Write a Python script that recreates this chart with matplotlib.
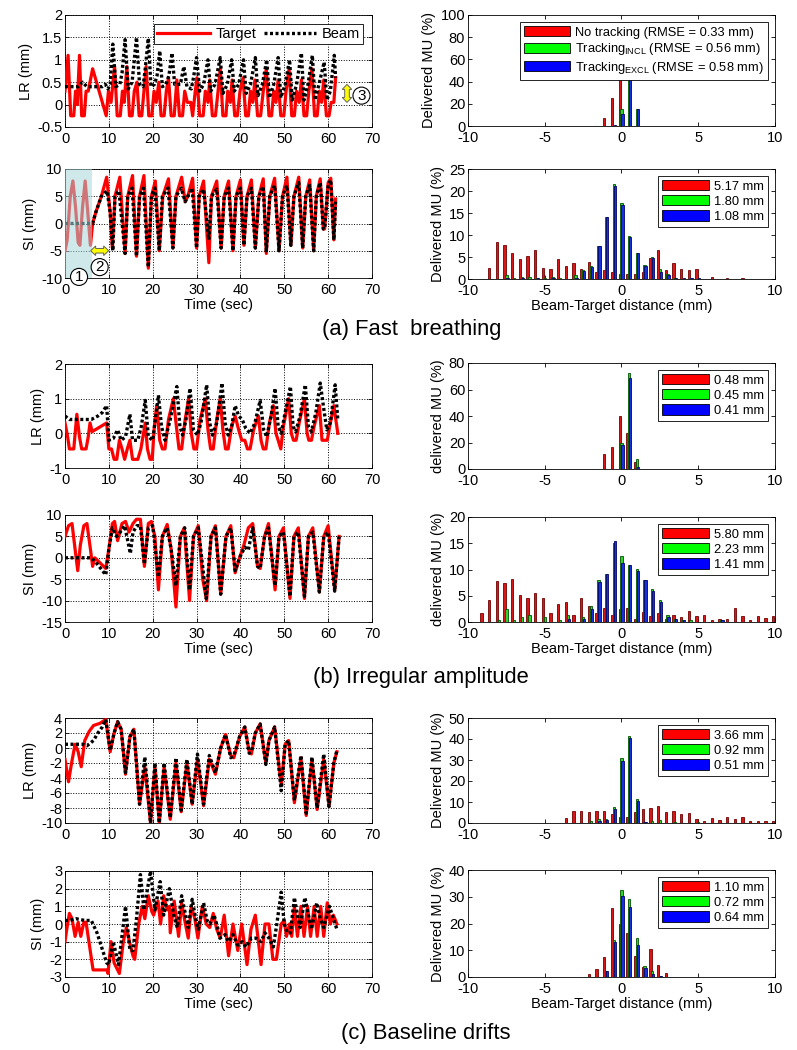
import numpy as np
import matplotlib
matplotlib.use("Agg")
import matplotlib.pyplot as plt
from matplotlib.patches import Patch, Rectangle, Polygon
from matplotlib.transforms import ScaledTranslation

plt.rcParams['font.family'] = ['Liberation Sans', 'DejaVu Sans']
plt.rcParams['mathtext.fontset'] = 'custom'
plt.rcParams['mathtext.rm'] = 'Liberation Sans'
plt.rcParams['axes.unicode_minus'] = False
plt.rcParams['font.size'] = 10

# ---------------- time series (t, mm) ----------------
a_lr_target = [(0, 0.3), (0.7, 1.1), (1.3, -0.25), (2.0, -0.25), (2.4, 0.3), (2.8, 0.0), (3.3, 1.1), (3.8, -0.25),
               (4.4, -0.25), (4.8, 0.3), (5.3, 0.3), (6.3, 0.8), (9.4, -0.25), (9.9, 0.3), (10.5, 0.05), (11.3, 0.85),
               (11.9, -0.25), (12.6, -0.25), (13.1, 0.3), (13.5, 0.05), (14.1, 0.85), (14.7, -0.25), (15.3, -0.25),
               (15.8, 0.3), (16.4, 0.5), (16.9, -0.25), (17.5, -0.25), (18.0, 0.3), (18.5, 0.85), (19.1, -0.25),
               (19.8, -0.25), (20.3, 0.3), (20.8, 0.05), (21.4, 0.5), (21.9, -0.25), (22.6, -0.25), (23.1, 0.3),
               (23.6, 0.6), (24.2, -0.25), (24.9, -0.25), (25.5, 0.55), (26.1, -0.25), (26.8, -0.25), (27.3, 0.3),
               (27.9, 0.05), (28.7, 0.05), (29.1, -0.25), (29.7, 0.3), (30.1, 0.6), (30.7, -0.25), (31.5, -0.25),
               (32.0, 0.3), (32.6, 0.05), (33.0, 0.55), (33.6, -0.25), (34.3, -0.25), (34.9, 0.3), (35.4, 0.8),
               (36.0, -0.25), (36.7, -0.25), (37.1, 0.3), (37.7, 0.05), (38.1, 0.55), (38.7, -0.25), (39.3, -0.25),
               (39.9, 0.3), (40.6, 0.6), (41.2, -0.25), (41.8, -0.25), (42.3, 0.3), (42.8, 0.05), (43.3, 0.55),
               (43.9, -0.25), (44.6, -0.25), (45.2, 0.3), (45.9, 0.8), (46.5, -0.25), (47.1, -0.25), (47.6, 0.3),
               (48.1, 0.05), (48.6, 0.55), (49.2, -0.25), (49.9, -0.25), (50.4, 0.3), (51.1, 0.8), (51.7, -0.25),
               (52.3, -0.25), (52.8, 0.3), (53.4, 0.05), (53.9, 0.55), (54.5, -0.25), (55.1, -0.25), (55.6, 0.3),
               (56.3, 0.8), (56.9, -0.25), (57.5, -0.25), (58.0, 0.3), (58.5, 0.05), (59.0, 0.55), (59.6, -0.25),
               (60.2, -0.25), (60.7, 0.05), (61.3, 0.05), (61.7, 0.6)]
a_lr_beam = [(0, 0.4), (3.0, 0.4), (4.0, 0.5), (5.0, 0.4), (8.5, 0.4), (9.2, 0.45), (9.8, 0.35), (10.3, 0.45),
             (10.9, 1.35), (11.6, 0.4), (12.5, 0.45), (13.0, 0.7), (13.7, 1.45), (14.4, 0.35), (15.3, 0.5),
             (16.3, 1.5), (17.0, 0.45), (17.8, 0.4), (18.3, 0.8), (19.0, 1.48), (19.6, 0.4), (20.4, 0.45),
             (21.0, 0.65), (21.6, 1.2), (22.2, 0.4), (23.0, 0.45), (23.7, 0.65), (24.4, 1.15), (25.0, 0.45),
             (26.3, 0.45), (27.1, 0.85), (27.8, 0.4), (28.8, 0.35), (29.3, 0.6), (30.0, 1.05), (30.7, 0.3),
             (31.6, 0.45), (32.6, 1.0), (33.2, 0.3), (34.2, 0.45), (35.4, 1.05), (36.0, 0.25), (37.0, 0.45),
             (38.0, 1.0), (38.6, 0.3), (39.6, 0.45), (40.7, 1.0), (41.3, 0.25), (42.3, 0.45), (43.4, 1.05),
             (44.0, 0.2), (45.0, 0.45), (46.0, 1.0), (46.6, 0.15), (47.6, 0.45), (48.6, 1.05), (49.2, 0.15),
             (50.2, 0.45), (51.2, 1.0), (51.8, 0.1), (52.8, 0.45), (53.9, 1.15), (54.5, 0.1), (55.4, 0.45),
             (56.4, 1.1), (57.0, 0.1), (57.9, 0.45), (59.1, 0.95), (59.7, 0.1), (60.5, 0.3), (61.4, 1.1), (61.7, 0.6)]

a_si_target = [(0, -5), (0.5, -3), (1.2, 5), (1.8, 7.8), (2.4, 3), (3.0, -3.5), (3.4, -4), (4.0, 3), (4.6, 7.8),
               (5.2, 2), (5.8, -4), (6.3, 0), (7.0, 2), (8.3, 5), (9.5, 8.5), (10.3, 2), (10.8, -4.5), (11.4, 5),
               (12.5, 8.5), (13.7, -5.5), (14.3, 5), (15.4, 8.8), (16.3, -6), (17.0, 5), (18.0, 8.8), (19.0, -8.2),
               (19.7, 5), (20.6, 7.8), (21.5, -5), (22.3, 5), (23.6, 8.2), (24.6, -4.5), (25.3, 5), (26.6, 8.5),
               (27.4, 4), (28.0, 5), (29.1, 8.3), (30.0, -4.5), (30.6, 5), (31.6, 7.8), (32.8, -7.2), (33.4, 5),
               (34.6, 7.8), (35.6, -4.5), (36.3, 5), (37.3, 7.8), (38.3, -5), (39.0, 5), (40.0, 8), (40.8, -4),
               (41.5, 5), (42.5, 8), (43.4, -4.5), (44.2, 5), (45.2, 8.2), (45.9, -5.5), (46.7, 5), (47.8, 8.3),
               (48.8, -5), (49.6, 5), (50.6, 8.5), (51.5, -4), (52.2, 5), (53.3, 8.5), (54.2, -4.5), (54.9, 5),
               (55.8, 8), (56.7, -5), (57.3, 5), (58.2, 8.2), (58.9, -1), (59.2, -1), (60.0, 7.5), (60.6, 8.3),
               (61.3, -3), (61.7, 4.5)]
a_si_beam = [(0, 0), (6.3, 0), (7.0, 2), (8.3, 5), (9.6, 6), (10.3, 2), (10.9, -5), (11.4, 5), (12.3, 6),
             (13.7, -5.5), (14.3, 5), (15.3, 6.5), (16.3, -6), (17.0, 5), (17.9, 6.5), (19.0, -8), (19.7, 5),
             (20.5, 6.5), (21.5, -5), (22.2, 5), (23.5, 6.5), (24.6, -4.5), (25.3, 5), (26.5, 6.5), (27.4, 4),
             (28.0, 5), (29.0, 6.5), (30.0, -4.5), (30.6, 5), (31.6, 6.3), (32.8, -3), (33.4, 5), (34.6, 6.3),
             (35.6, -4.5), (36.3, 5), (37.3, 6.5), (38.3, -5), (39.0, 5), (40.0, 6.5), (40.8, -4), (41.5, 5),
             (42.5, 6.5), (43.4, -4.5), (44.2, 5), (45.2, 6.8), (45.9, -5), (46.7, 5), (47.8, 7), (48.8, -5),
             (49.6, 5), (50.6, 7), (51.5, -4), (52.2, 5), (53.3, 7.5), (54.2, -4.5), (54.9, 5), (55.8, 7),
             (56.7, -5), (57.3, 5), (58.2, 7.5), (58.9, -1), (59.2, -1), (60.0, 7), (60.6, 8), (61.3, -3), (61.7, 4)]

b_lr_target = [(0, 0.3), (0.6, -0.1), (1.0, -0.45), (2.0, -0.45), (2.7, 0.55), (3.3, -0.1), (3.8, -0.45),
               (4.8, -0.45), (5.3, -0.1), (5.7, 0.3), (6.2, 0.05), (9.5, 0.3), (10.0, -0.45), (10.6, -0.45),
               (11.2, -0.75), (11.8, -0.75), (12.4, -0.2), (13.0, -0.45), (13.6, -0.75), (14.2, -0.45), (14.8, -0.2),
               (15.4, -0.75), (16.6, -0.75), (17.3, -0.45), (18.3, 0.3), (18.8, -0.45), (19.4, -0.75), (19.9, -0.75),
               (20.3, 0.1), (20.9, 0.8), (21.6, -0.2), (22.2, -0.45), (22.8, -0.45), (23.6, 0.4), (24.7, 1.0),
               (25.4, 0.2), (26.0, -0.45), (26.6, -0.45), (27.4, 0.4), (28.2, 1.0), (28.8, 0.0), (29.4, -0.45),
               (30.0, -0.45), (30.8, 0.4), (32.0, 1.0), (32.6, 0.1), (33.2, -0.45), (33.8, -0.45), (34.6, 0.4),
               (35.4, 1.0), (36.0, 0.1), (36.6, -0.45), (37.2, -0.45), (38.0, 0.2), (38.8, 0.5), (39.6, 0.1),
               (40.3, -0.2), (41.0, -0.2), (41.6, -0.45), (42.2, -0.45), (43.0, 0.1), (44.1, 0.5), (44.7, -0.2),
               (45.2, -0.45), (45.8, -0.45), (46.6, 0.3), (47.5, 0.8), (48.1, 0.0), (48.6, -0.2), (49.2, -0.45),
               (49.8, 0.2), (51.0, 1.0), (51.6, 0.0), (52.1, -0.2), (52.7, -0.2), (53.4, 0.3), (54.6, 1.0),
               (55.2, 0.0), (55.6, -0.2), (56.2, -0.2), (56.8, 0.2), (58.0, 0.8), (58.6, -0.2), (59.2, -0.2),
               (59.8, -0.2), (60.5, 0.3), (61.3, 0.8), (62.2, 0.0)]
b_lr_beam = [(0, 0.5), (1.0, 0.4), (6.0, 0.4), (7.5, 0.5), (8.5, 0.6), (9.5, 0.8), (10.0, -0.2), (11.0, -0.15),
             (12.0, 0.1), (12.8, -0.2), (13.8, -0.1), (14.8, 0.55), (15.4, -0.2), (16.6, -0.2), (17.4, 0.2),
             (18.3, 0.95), (19.0, -0.1), (20.0, -0.2), (21.3, 1.1), (22.0, 0.2), (22.8, -0.2), (24.0, 0.4),
             (25.5, 1.35), (26.2, 0.2), (26.8, -0.05), (27.6, 0.4), (28.5, 1.3), (29.3, 0.1), (30.2, -0.05),
             (31.0, 0.3), (32.3, 1.4), (33.0, 0.3), (33.6, -0.05), (34.6, 0.3), (35.8, 1.45), (36.5, 0.3),
             (37.2, -0.05), (38.0, 0.2), (38.8, 0.8), (39.6, 0.5), (40.4, 0.4), (41.2, 0.15), (42.2, 0.0),
             (43.3, 0.3), (44.5, 0.95), (45.3, 0.1), (46.0, -0.1), (47.0, 0.5), (47.9, 1.3), (48.6, 0.2),
             (49.3, 0.0), (50.2, 0.6), (51.4, 1.35), (52.0, 0.2), (52.6, 0.05), (53.6, 0.5), (54.8, 1.4),
             (55.5, 0.2), (56.2, 0.05), (57.2, 0.6), (58.2, 1.45), (58.9, 0.8), (59.7, 0.1), (60.5, 0.3),
             (61.6, 1.4), (62.2, 0.4)]

b_si_target = [(0, 5), (0.8, 7.5), (1.6, 8), (2.3, 2), (2.9, -3), (3.5, 3), (4.3, 7.5), (5.0, 8), (5.8, 2),
               (6.3, -2), (6.8, 0), (9.3, -2.5), (10.0, 2), (10.8, 8), (11.3, 8.5), (12.0, 4), (13.0, 8), (13.8, 8.5),
               (14.6, 6), (15.5, 8), (16.3, 9), (17.2, 9), (18.1, -2), (19.0, 8), (19.7, 8.5), (20.5, 5),
               (21.3, -7.5), (22.2, 5), (23.3, 7.8), (24.2, 2), (25.3, -11.5), (26.3, 5), (27.2, 7), (28.4, -10),
               (29.3, 5), (30.4, 7.5), (31.4, -5), (32.3, -10), (33.3, 5), (34.3, 7.5), (35.5, -8.5), (36.7, 5),
               (37.8, 7.5), (38.8, -3.5), (39.8, 0), (40.8, 3), (41.8, 7), (42.8, 8), (43.9, -2), (44.5, -2.5),
               (45.5, 5), (46.4, 8), (47.9, -7.5), (48.8, 5), (49.8, 7), (51.3, -9.5), (52.2, 5), (53.2, 7),
               (54.6, -9.5), (55.5, 5), (56.5, 7), (58.0, -8), (59.0, 5), (60.0, 7.5), (61.5, -7.5), (62.5, 5)]
b_si_beam = [(0, 0), (6, 0), (7, -1), (9.3, -4), (10.0, 2), (10.8, 7), (11.8, 5), (12.6, 6), (13.6, 7.5),
             (14.9, 1), (15.5, 6), (16.4, 7.5), (17.2, 7.5), (18.1, -1.5), (19.0, 7), (20.0, 7.5), (21.3, -4.5),
             (22.2, 5), (23.3, 7), (24.2, 2), (25.3, -6.5), (26.3, 5), (27.3, 7), (28.4, -7.5), (29.3, 5),
             (30.4, 7), (32.2, -9.5), (33.3, 5), (34.3, 7), (35.5, -8.5), (36.7, 5), (37.8, 7), (38.8, -3),
             (39.8, 0), (41.0, 2.5), (41.8, 1.8), (42.8, 7), (43.9, -2), (44.5, -2.5), (45.5, 5), (46.4, 7),
             (47.9, -6.5), (48.8, 5), (49.8, 6), (51.3, -9), (52.2, 5), (53.2, 6), (54.6, -9), (55.5, 5),
             (56.5, 6), (58.0, -8), (59.0, 5), (60.0, 6), (61.5, -7.8), (62.5, 5)]

c_lr_target = [(0, -1.5), (0.8, -4.5), (1.5, -2), (2.3, 0.5), (3.0, -0.5), (3.7, -2.5), (4.5, 1.0), (5.5, 2.2),
               (6.5, 3.0), (8.0, 3.3), (9.3, 3.8), (10.3, -0.5), (11.2, 2), (12.0, 3.5), (12.8, 2.5), (13.8, -3.5),
               (14.8, 1.5), (15.7, 2.5), (17.0, -7.5), (18.2, -2.5), (19.5, -10), (20.5, -2.5), (21.5, -10),
               (22.6, -2.5), (24.0, -9.5), (25.3, -2.0), (26.5, -8.5), (27.8, -2.0), (29.0, -7.5), (30.2, -1.5),
               (31.6, -7.7), (32.9, -1.5), (34.3, -3.5), (35.5, 0), (36.6, 1.8), (37.8, -1.0), (38.5, -1.3),
               (39.8, 1.5), (41.0, 2.8), (42.0, -0.5), (42.5, -0.8), (43.4, 2), (44.5, 3.2), (45.8, -2.0),
               (46.5, 1), (47.8, 2.8), (49.3, -5), (50.2, 0.5), (51.0, 1), (52.3, -7.3), (53.8, -1.3), (55.0, -9),
               (56.3, -1.5), (57.5, -8.2), (59.0, -1.5), (60.2, -7.8), (61.3, -2), (62.0, -0.5)]
c_lr_beam = [(0, 0.5), (4, 0.5), (5, 0.3), (6.5, 1.0), (7.5, 2.0), (8.5, 2.8), (9.3, 3.8), (10.3, -0.3), (11.2, 2),
             (12.0, 3.5), (12.8, 2.5), (13.8, -3.3), (14.8, 1.5), (15.7, 2.5), (17.0, -7.5), (18.2, -1.2),
             (19.5, -10), (20.5, -2), (21.5, -10), (22.6, -2), (24.0, -9.3), (25.3, -1.3), (26.5, -8.3),
             (27.8, -1.5), (29.0, -7.5), (30.2, -0.8), (31.6, -7.5), (32.9, -1.0), (34.3, -3.3), (35.5, 0),
             (36.6, 1.8), (37.8, -1.3), (38.5, -1.0), (39.8, 1.5), (41.0, 2.8), (42.0, -0.7), (42.5, -0.5),
             (43.4, 2), (44.5, 3.2), (45.8, -2.2), (46.5, 1), (47.8, 2.8), (49.3, -5.7), (50.2, 0.5), (51.0, 1),
             (52.3, -7.0), (53.8, -1.0), (55.0, -8.7), (56.3, -1.2), (57.5, -8.0), (59.0, -0.8), (60.2, -7.8),
             (61.3, -2), (62.0, -0.3)]

c_si_target = [(0, -1.0), (0.4, -0.3), (1.0, 0.6), (1.6, 0.3), (2.3, -0.7), (3.0, 0.1), (3.6, -0.7), (4.3, 0.1),
               (4.8, 0.1), (6.4, -2.6), (9.6, -2.6), (9.8, -2.8), (10.5, -1.0), (11.2, -2.2), (11.8, -2.5),
               (12.4, -2.8), (13.3, -1.0), (14.0, -0.2), (14.6, -0.9), (15.5, -1.8), (15.9, -2.0), (16.8, 0.0),
               (17.6, 1.0), (18.2, 0.3), (19.0, 1.6), (19.8, 0.7), (20.2, 0.5), (21.2, 1.3), (21.8, 0.0),
               (22.5, 1.6), (23.3, 0.8), (23.8, 1.0), (24.0, -0.5), (24.9, 1.3), (25.3, 0.5), (25.9, -0.7),
               (26.6, 1.2), (27.3, 0.2), (28.1, -0.8), (28.8, 1.0), (29.6, 0.3), (30.3, -0.8), (31.3, 1.0),
               (32.2, 0.0), (33.0, -0.2), (33.8, 0.6), (34.6, -0.3), (35.4, -0.8), (36.3, 0.5), (37.3, -1.8),
               (38.3, 0.0), (39.4, -1.5), (40.3, 0.0), (41.5, -2.3), (42.4, -0.3), (43.4, 0.5), (44.7, -2.3),
               (45.6, 0.0), (46.5, 0.0), (47.4, -2.0), (48.2, -2.0), (49.3, 0.0), (50.0, 0.2), (50.5, -0.7),
               (51.2, 0.0), (51.7, -0.7), (52.3, 1.0), (53.0, -0.7), (53.8, 1.0), (54.5, -0.7), (55.3, 1.0),
               (56.0, -0.7), (56.8, 1.0), (57.5, -0.7), (58.3, 1.0), (59.0, -0.7), (59.8, 1.2), (60.5, 0.0),
               (61.2, 0.5), (62.0, 0.0)]
c_si_beam = [(0, 0.2), (1.0, 0.2), (2.5, 0.3), (4.5, 0.2), (6.0, 0.2), (7.3, -0.5), (9.5, -2.2), (10.0, -2.3),
             (11.0, -1.0), (12.2, -2.3), (13.8, 1.0), (14.8, -1.5), (15.5, -1.5), (16.3, 0.3), (17.2, 2.8),
             (18.0, 0.8), (19.5, 3.0), (20.5, 0.8), (21.7, 2.4), (22.5, 0.5), (23.8, 2.0), (24.8, 0.5),
             (25.6, -0.2), (26.6, 1.6), (27.5, 0.5), (28.1, -0.2), (29.0, 1.4), (29.8, 0.3), (30.4, -0.3),
             (31.6, 1.2), (32.4, 0.2), (33.0, 0.0), (34.0, 0.5), (34.8, -0.2), (35.3, -0.8), (36.5, -0.6),
             (37.3, -1.0), (38.3, -0.6), (39.4, -1.2), (40.4, -1.0), (41.3, -1.3), (42.5, -0.8), (43.5, -0.8),
             (44.7, -1.0), (45.6, -0.5), (46.5, -0.8), (47.5, -1.3), (48.3, 0.0), (49.3, 1.8), (50.0, 0.0),
             (50.7, -0.5), (51.4, -0.5), (52.3, 1.5), (53.0, 0.5), (53.6, -0.2), (54.7, 1.5), (55.5, 0.5),
             (56.2, -0.3), (57.4, 1.2), (58.2, 0.3), (59.0, -0.2), (60.3, 1.0), (61.2, 0.3), (62.0, -0.3)]

# ---------------- histograms: (bin centre mm, delivered MU %) ----------------
a_lr_red = [(-1, 7), (-0.5, 25), (0, 68)]
a_lr_green = [(0, 15), (0.5, 70), (1, 15)]
a_lr_blue = [(-0.5, 1), (0, 11), (0.5, 73), (1, 15)]

a_si_red = [(-8.5, 2.6), (-8, 8.3), (-7.5, 7.7), (-7, 5.8), (-6.5, 4.5), (-6, 5.2), (-5.5, 6.7), (-5, 2.6),
            (-4.5, 2.3), (-4, 4.5), (-3.5, 3.0), (-3, 3.6), (-2.5, 2.3), (-2, 3.9), (-1.5, 1.7), (-1, 2.0),
            (-0.5, 1.6), (0, 1.1), (0.5, 1.1), (1, 1.1), (1.5, 1.7), (2, 4.8), (2.5, 6.6), (3, 2.0), (3.5, 3.7),
            (4, 2.3), (4.5, 2.0), (5, 2.3), (6, 0.5), (7, 0.2), (8, 0.2)]
a_si_green = [(-7.5, 1.0), (-7, 0.3), (-6.5, 0.4), (-6, 0.5), (-5.5, 0.3), (-5, 0.3), (-4.5, 0.5), (-4, 0.2),
              (-3, 0.9), (-2.5, 2.0), (-2, 3.0), (-1.5, 7.5), (-1, 14.0), (-0.5, 21.5), (0, 17.3), (0.5, 9.8),
              (1, 5.9), (1.5, 3.2), (2, 5.1), (2.5, 2.2), (3, 1.2), (3.5, 0.2)]
a_si_blue = [(-7.5, 0.2), (-6.5, 0.2), (-5.5, 0.2), (-4.5, 0.2), (-3, 0.2), (-2.5, 1.8), (-2, 2.8), (-1.5, 7.4),
             (-1, 14.0), (-0.5, 21.2), (0, 16.9), (0.5, 9.5), (1, 5.8), (1.5, 2.9), (2, 4.7), (2.5, 1.7),
             (3, 0.9), (3.5, 0.3), (4, 0.2), (4.5, 0.2), (5, 0.2)]

b_lr_red = [(-1, 11), (-0.5, 16.7), (0, 40), (0.5, 27), (1, 5.5)]
b_lr_green = [(0, 20), (0.5, 72.5), (1, 7.3)]
b_lr_blue = [(0, 18), (0.5, 68.5), (1, 1.5)]

b_si_red = [(-9, 1.7), (-8.5, 4.2), (-8, 7.8), (-7.5, 7.4), (-7, 8.1), (-6.5, 5.2), (-6, 4.5), (-5.5, 5.6),
            (-5, 4.5), (-4.5, 1.7), (-4, 3.5), (-3.5, 3.8), (-3, 1.4), (-2.5, 4.5), (-2, 3.1), (-1.5, 1.7),
            (-1, 2.6), (-0.5, 1.4), (0, 2.5), (0.5, 2.7), (1, 0.6), (1.5, 2.0), (2, 1.1), (2.5, 1.7), (3, 0.6),
            (3.5, 1.4), (4, 1.0), (4.5, 2.1), (5, 1.1), (5.5, 1.4), (6, 0.4), (6.5, 0.6), (7, 0.6), (7.5, 2.7),
            (8, 1.1), (8.5, 0.4), (9, 1.1), (9.5, 0.7), (10, 1.1)]
b_si_green = [(-8, 0.3), (-7.5, 2.4), (-7, 0.3), (-6.5, 1.0), (-6, 1.3), (-5, 1.0), (-4, 0.3), (-3.5, 1.4),
              (-2.5, 1.0), (-2, 3.1), (-1.5, 8.0), (-1, 9.2), (-0.5, 15.1), (0, 12.5), (0.5, 10.8), (1, 10.1),
              (1.5, 8.0), (2, 6.3), (2.5, 4.2), (3, 1.4), (3.5, 0.6), (4, 0.4), (4.5, 0.3), (6.5, 0.4)]
b_si_blue = [(-3.5, 0.5), (-2.5, 0.6), (-2, 2.5), (-1.5, 7.6), (-1, 9.2), (-0.5, 15.4), (0, 11.2), (0.5, 10.8),
             (1, 9.8), (1.5, 8.0), (2, 6.0), (2.5, 3.8), (3, 1.0), (3.5, 0.6), (4, 0.3), (6.5, 0.3)]

c_lr_red = [(-3.5, 2.4), (-3, 5.7), (-2.5, 5.7), (-2, 5.2), (-1.5, 5.7), (-1, 5.7), (-0.5, 4.4), (0, 2.9),
            (0.5, 2.9), (1, 5.2), (1.5, 6.8), (2, 7.3), (2.5, 8.1), (3, 5.4), (3.5, 5.7), (4, 4.4), (4.5, 4.6),
            (5, 1.9), (5.5, 1.1), (6, 2.4), (6.5, 1.3), (7, 2.9), (7.5, 2.1), (8, 2.9), (8.5, 1.0), (9, 1.0),
            (9.5, 1.0), (10, 1.1)]
c_lr_green = [(-2, 0.8), (-1.5, 1.8), (-1, 1.8), (-0.5, 7.8), (0, 31.0), (0.5, 41.5), (1, 11.3), (1.5, 0.5),
              (2, 1.0), (2.5, 1.4), (3.5, 0.6), (5, 0.6)]
c_lr_blue = [(-1.5, 1.0), (-1, 1.3), (-0.5, 6.9), (0, 29.5), (0.5, 40.5), (1, 10.3), (1.5, 0.3)]

c_si_red = [(-2, 1.3), (-1.5, 2.9), (-1, 7.3), (-0.5, 25.8), (0, 19.8), (0.5, 16.3), (1, 8.0), (1.5, 3.9),
            (2, 10.5), (2.5, 4.3), (3, 1.5)]
c_si_green = [(-1, 2.3), (-0.5, 14.0), (0, 32.6), (0.5, 29.0), (1, 14.5), (1.5, 4.2), (2, 2.3), (2.5, 0.5)]
c_si_blue = [(-1, 2.3), (-0.5, 13.0), (0, 30.2), (0.5, 26.3), (1, 12.0), (1.5, 3.2), (2, 1.3), (2.5, 0.4)]

rmse_labels = {
    "a_lr": ["No tracking (RMSE = 0.33 mm)", r"Tracking$_{\mathrm{INCL}}$ (RMSE = 0.56 mm)",
             r"Tracking$_{\mathrm{EXCL}}$ (RMSE = 0.58 mm)"],
    "a_si": ["5.17 mm", "1.80 mm", "1.08 mm"],
    "b_lr": ["0.48 mm", "0.45 mm", "0.41 mm"],
    "b_si": ["5.80 mm", "2.23 mm", "1.41 mm"],
    "c_lr": ["3.66 mm", "0.92 mm", "0.51 mm"],
    "c_si": ["1.10 mm", "0.72 mm", "0.64 mm"],
}

W, H = 797, 1050
fig = plt.figure(figsize=(W / 100, H / 100), dpi=100)


def px_axes(x0, x1, y0, y1):
    return fig.add_axes([x0 / W, 1 - y1 / H, (x1 - x0) / W, (y1 - y0) / H])


def style(ax):
    ax.grid(True, ls=':', color='k', lw=0.7)
    ax.tick_params(direction='in', top=True, right=True, length=3, width=0.6, labelsize=10.5, pad=2)
    ax.tick_params(axis='x', pad=3.5)
    for s in ax.spines.values():
        s.set_linewidth(0.6)


def darrow(ax, x, y, vertical=False):
    # yellow double-headed block arrow, shape given in pixels around a data anchor
    L, hl, hw, sw = 9.0, 5.0, 4.8, 2.3
    pts = [(-L, 0), (-L + hl, hw), (-L + hl, sw), (L - hl, sw), (L - hl, hw), (L, 0),
           (L - hl, -hw), (L - hl, -sw), (-L + hl, -sw), (-L + hl, -hw)]
    if vertical:
        pts = [(b, a) for a, b in pts]
    pts = [(a / 100, b / 100) for a, b in pts]
    tr = fig.dpi_scale_trans + ScaledTranslation(x, y, ax.transData)
    ax.add_patch(Polygon(pts, closed=True, fc='#ffff00', ec='#606060', lw=0.7, transform=tr,
                         zorder=12, clip_on=False))


def circled(ax, x, y, s):
    ax.text(x, y, s, ha='center', va='center', fontsize=11, zorder=12, clip_on=False,
            bbox=dict(boxstyle='circle,pad=0.1', fc='white', ec='k', lw=0.8))


def time_panel(ax, target, beam, ylim, yticks, ylabel, xlabel=False):
    t1, y1 = zip(*target)
    t2, y2 = zip(*beam)
    ax.plot(t1, y1, color='#ff0000', lw=2.3, zorder=3, label='Target')
    ax.plot(t2, y2, color='k', lw=2.4, ls=(0, (0.9, 0.75)), zorder=4, label='Beam')
    ax.set_xlim(0, 70)
    ax.set_xticks(range(0, 71, 10))
    ax.set_ylim(*ylim)
    ax.set_yticks(yticks)
    ax.set_ylabel(ylabel, fontsize=10.5, labelpad=3)
    if xlabel:
        ax.set_xlabel("Time (sec)", fontsize=10.5, labelpad=1)
    style(ax)


def hist_panel(ax, red, green, blue, ylim, yticks, ylabel, labels, xlabel=False):
    for data, off, fc, ec in [(red, -0.12, '#d81818', '#700000'),
                              (green, 0.0, '#30d030', '#005500'),
                              (blue, 0.07, '#1830e0', '#000070')]:
        x, v = zip(*data)
        ax.bar(np.array(x) + off, v, width=0.15, color=fc, edgecolor=ec, lw=0.6, zorder=3)
    ax.set_xlim(-10, 10)
    ax.set_xticks([-10, -5, 0, 5, 10])
    ax.set_ylim(*ylim)
    ax.set_yticks(yticks)
    ax.set_ylabel(ylabel, fontsize=10.5, labelpad=3)
    if xlabel:
        ax.set_xlabel("Beam-Target distance (mm)", fontsize=10.5, labelpad=1)
    style(ax)
    ax.grid(False)
    handles = [Patch(facecolor='#ff0000', edgecolor='k', lw=0.6),
               Patch(facecolor='#00ff00', edgecolor='k', lw=0.6),
               Patch(facecolor='#0000ff', edgecolor='k', lw=0.6)]
    leg = ax.legend(handles, labels, loc='upper right', fontsize=9.3, frameon=True, fancybox=False,
                    framealpha=1, edgecolor='k', handlelength=3.6, handleheight=0.85, labelspacing=0.2,
                    handletextpad=0.4, borderpad=0.3, borderaxespad=0.55)
    leg.get_frame().set_linewidth(0.6)
    leg.set_zorder(10)
    return leg


L0, L1, R0, R1 = 65, 372, 468, 775

# (a) Fast breathing
ax = px_axes(L0, L1, 15, 127)
time_panel(ax, a_lr_target, a_lr_beam, (-0.5, 2), [-0.5, 0, 0.5, 1, 1.5, 2], "LR (mm)")
ax.set_yticklabels(["-0.5", "0", "0.5", "1", "1.5", "2"])
leg = ax.legend(loc='upper right', ncol=2, fontsize=10.5, fancybox=False, framealpha=1, edgecolor='k',
                handlelength=3.6, columnspacing=0.5, handletextpad=0.4, borderpad=0.2, borderaxespad=0.6)
leg.get_frame().set_linewidth(0.6)
leg.set_zorder(10)
darrow(ax, 64.3, 0.25, vertical=True)
circled(ax, 67.6, 0.2, "3")

ax = px_axes(R0, R1, 15, 126)
hist_panel(ax, a_lr_red, a_lr_green, a_lr_blue, (0, 100), range(0, 101, 20), "Delivered MU (%)",
           rmse_labels["a_lr"])

ax = px_axes(L0, L1, 169, 278)
time_panel(ax, a_si_target, a_si_beam, (-10, 10), [-10, -5, 0, 5, 10], "SI (mm)", xlabel=True)
ax.add_patch(Rectangle((0, -10), 6.2, 20, fc='#a8d6da', alpha=0.55, lw=0, zorder=5))
darrow(ax, 7.9, -5.0)
circled(ax, 7.9, -8.0, "2")
circled(ax, 3.2, -9.8, "1")

ax = px_axes(R0, R1, 169, 279)
hist_panel(ax, a_si_red, a_si_green, a_si_blue, (0, 25), range(0, 26, 5), "Delivered MU (%)",
           rmse_labels["a_si"], xlabel=True)

fig.text(412 / W, 1 - 330 / H, "(a) Fast  breathing", ha='center', va='center', fontsize=15.8)

# (b) Irregular amplitude
ax = px_axes(L0, L1, 364, 468)
time_panel(ax, b_lr_target, b_lr_beam, (-1, 2), [-1, 0, 1, 2], "LR (mm)")
ax = px_axes(R0, R1, 363, 469)
hist_panel(ax, b_lr_red, b_lr_green, b_lr_blue, (0, 80), range(0, 81, 20), "delivered MU (%)",
           rmse_labels["b_lr"])
ax = px_axes(L0, L1, 515, 622)
time_panel(ax, b_si_target, b_si_beam, (-15, 10), range(-15, 11, 5), "SI (mm)", xlabel=True)
ax = px_axes(R0, R1, 517, 622)
hist_panel(ax, b_si_red, b_si_green, b_si_blue, (0, 20), range(0, 21, 5), "delivered MU (%)",
           rmse_labels["b_si"], xlabel=True)
fig.text(421 / W, 1 - 677 / H, "(b) Irregular amplitude", ha='center', va='center', fontsize=15.8)

# (c) Baseline drifts
ax = px_axes(L0, L1, 718, 823)
time_panel(ax, c_lr_target, c_lr_beam, (-10, 4), range(-10, 5, 2), "LR (mm)")
ax = px_axes(R0, R1, 718, 823)
hist_panel(ax, c_lr_red, c_lr_green, c_lr_blue, (0, 50), range(0, 51, 10), "Delivered MU (%)",
           rmse_labels["c_lr"])
ax = px_axes(L0, L1, 871, 977)
time_panel(ax, c_si_target, c_si_beam, (-3, 3), range(-3, 4), "SI (mm)", xlabel=True)
ax = px_axes(R0, R1, 870, 977)
hist_panel(ax, c_si_red, c_si_green, c_si_blue, (0, 40), range(0, 41, 10), "Delivered MU (%)",
           rmse_labels["c_si"], xlabel=True)
fig.text(426 / W, 1 - 1033 / H, "(c) Baseline drifts", ha='center', va='center', fontsize=15.8)

fig.savefig("out.png", dpi=100, facecolor='white')
